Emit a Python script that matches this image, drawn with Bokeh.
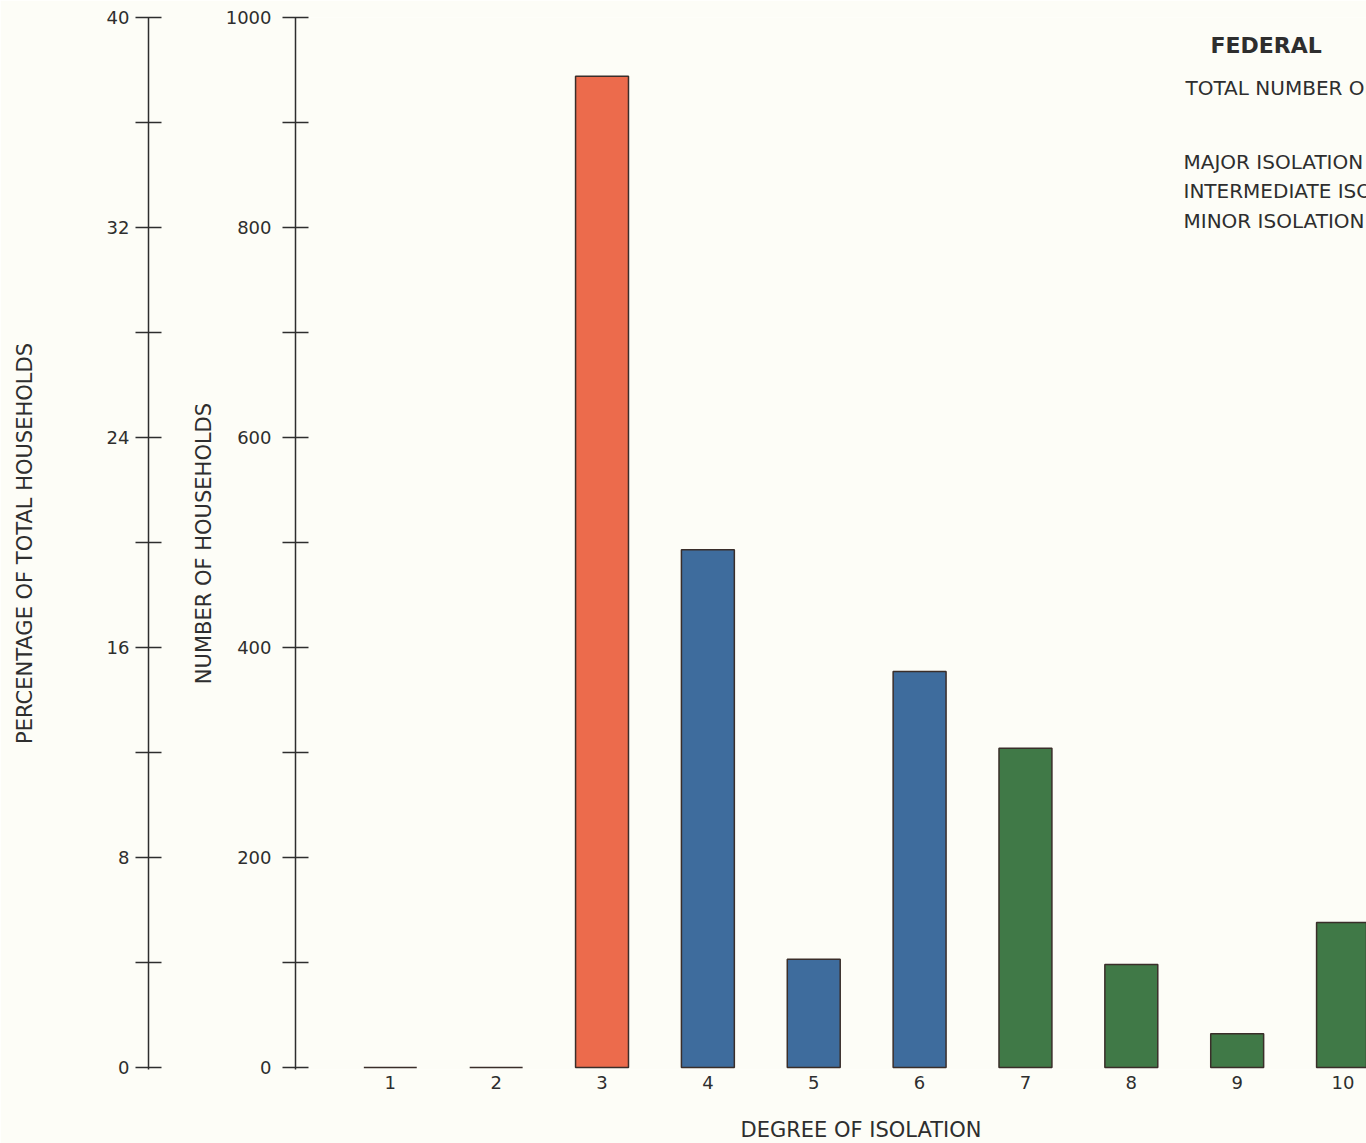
from bokeh.plotting import figure
from bokeh.models import LinearAxis, Range1d, FixedTicker, Label, Title
from bokeh.embed import file_html
from bokeh.resources import INLINE

# ---- data ----
degree = [1, 2, 3, 4, 5, 6, 7, 8, 9, 10]
degree_labels = ["1", "2", "3", "4", "5", "6", "7", "8", "9", "10"]
households = [0, 0, 944, 493, 103, 377, 304, 98, 32, 138]
groups = ["major", "major", "major", "intermediate", "intermediate", "intermediate",
          "minor", "minor", "minor", "minor"]
group_colors = {"major": "#EC6B4C", "intermediate": "#3E6C9D", "minor": "#407947"}
count_ticks = [0, 200, 400, 600, 800, 1000]
count_minor = [100, 300, 500, 700, 900]
pct_ticks = [0, 8, 16, 24, 32, 40]
pct_minor = [4, 12, 20, 28, 36]
legend_texts = ["MAJOR ISOLATION", "INTERMEDIATE ISOLATION", "MINOR ISOLATION"]

BG = "#FDFDF7"
INK = "#2e2e2e"
FONT = "DejaVu Sans"

W, H = 1366, 1143
LEFT = 295          # frame left edge (px)
X1 = 389.8          # pixel position of category 1
px_per_unit = 105.86
x_start = 1 - (X1 - LEFT) / px_per_unit
x_end = x_start + (W - LEFT) / px_per_unit


def dx(px):
    return 1 + (px - X1) / px_per_unit


def dy(py):
    return (1067 - py) / 1.05


p = figure(width=W, height=H, output_backend="svg", toolbar_location=None,
           x_range=Range1d(x_start, x_end), y_range=Range1d(-2, 1000),
           min_border_left=LEFT, min_border_right=0, min_border_top=17,
           min_border_bottom=74)
p.background_fill_color = BG
p.border_fill_color = BG
p.outline_line_color = None
p.grid.visible = False

colors = [group_colors[g] for g in groups]
p.vbar(x=degree, top=households, bottom=0, width=0.5, fill_color=colors,
       line_color="#3a2e2a", line_width=1.5)

# x axis
xa = p.xaxis[0]
xa.ticker = FixedTicker(ticks=degree)
xa.major_label_overrides = {d: l for d, l in zip(degree, degree_labels)}
xa.axis_line_color = None
xa.major_tick_line_color = None
xa.minor_tick_line_color = None
xa.major_tick_out = 0
xa.major_tick_in = 0
xa.major_label_standoff = 6
xa.major_label_text_font = FONT
xa.major_label_text_font_size = "18px"
xa.major_label_text_color = INK

# invisible spacer below the category labels
xspacer = LinearAxis(ticker=FixedTicker(ticks=[0.5], minor_ticks=[]),
                     axis_line_color=None, major_tick_line_color=BG,
                     major_tick_line_width=0.5, minor_tick_line_color=None,
                     major_tick_out=23, major_tick_in=0, minor_tick_out=0,
                     minor_tick_in=0, major_label_standoff=0,
                     major_label_overrides={0.5: ""})
p.add_layout(xspacer, "below")


def style_y(ax, ticks, minor, label, label_standoff, tick_standoff):
    ax.ticker = FixedTicker(ticks=ticks, minor_ticks=minor)
    ax.axis_line_color = INK
    ax.axis_line_width = 1.5
    ax.major_tick_line_color = INK
    ax.major_tick_line_width = 1.5
    ax.minor_tick_line_color = INK
    ax.minor_tick_line_width = 1.5
    ax.major_tick_in = 13
    ax.major_tick_out = 13
    ax.minor_tick_in = 13
    ax.minor_tick_out = 13
    ax.major_label_standoff = tick_standoff
    ax.major_label_text_font = FONT
    ax.major_label_text_font_size = "18px"
    ax.major_label_text_color = INK
    ax.axis_label = label
    ax.axis_label_standoff = label_standoff
    ax.axis_label_text_font = FONT
    ax.axis_label_text_font_size = "21px"
    ax.axis_label_text_font_style = "normal"
    ax.axis_label_text_color = INK


# inner axis: number of households
style_y(p.yaxis[0], count_ticks, count_minor, "NUMBER OF HOUSEHOLDS", 7, 11)

# invisible spacer between the two axes
p.extra_y_ranges = {"pct": Range1d(-2 / 25, 40)}
spacer = LinearAxis(y_range_name="pct", ticker=FixedTicker(ticks=[2], minor_ticks=[]),
                    axis_line_color=None, major_tick_line_color=BG,
                    major_tick_line_width=0.5, minor_tick_line_color=None,
                    major_tick_out=40, major_tick_in=0, minor_tick_out=0,
                    minor_tick_in=0, major_label_standoff=0,
                    major_label_overrides={2: ""})
p.add_layout(spacer, "left")

# outer axis: percentage of total households
pct_axis = LinearAxis(y_range_name="pct")
style_y(pct_axis, pct_ticks, pct_minor, "PERCENTAGE OF TOTAL HOUSEHOLDS", 67, 6)
p.add_layout(pct_axis, "left")

# x axis title
p.add_layout(Title(text="DEGREE OF ISOLATION", align="left", offset=740 - LEFT,
                   standoff=2, text_font=FONT, text_font_size="21px",
                   text_font_style="normal", text_color=INK), "below")

# header texts (cut at the right edge as in the source)
p.add_layout(Label(x=dx(1210), y=dy(45), text="FEDERAL",
                   text_align="left", text_baseline="middle", text_font=FONT,
                   text_font_size="22px", text_font_style="bold", text_color=INK))
p.add_layout(Label(x=dx(1185), y=dy(88), text="TOTAL NUMBER OF",
                   text_align="left", text_baseline="middle", text_font=FONT,
                   text_font_size="20px", text_color=INK))
for t, py in zip(legend_texts, [162, 191, 221]):
    p.add_layout(Label(x=dx(1183), y=dy(py), text=t,
                       text_align="left", text_baseline="middle", text_font=FONT,
                       text_font_size="20px", text_color=INK))

open("out.html", "w").write(file_html(p, INLINE))
